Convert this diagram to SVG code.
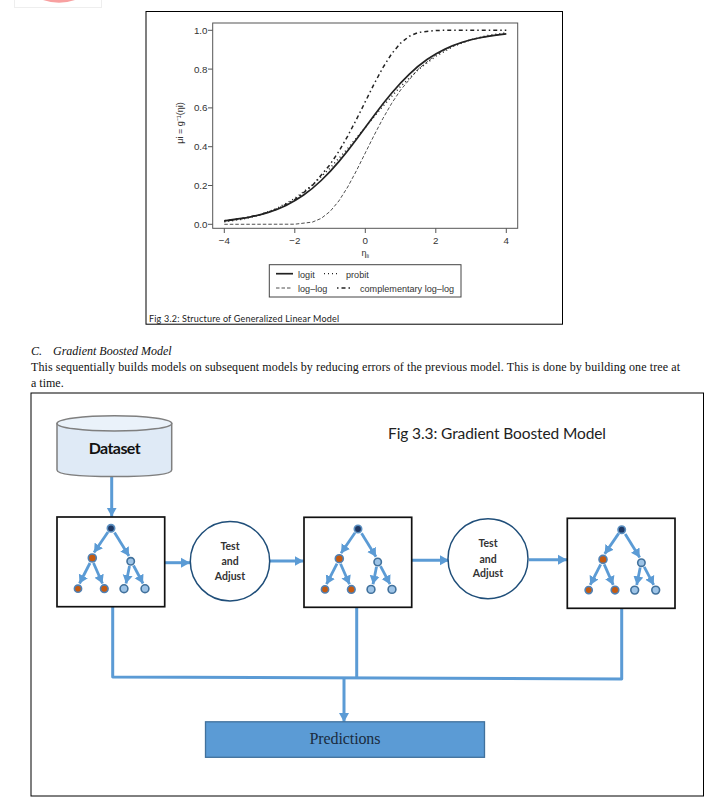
<svg xmlns="http://www.w3.org/2000/svg" width="717" height="803" viewBox="0 0 717 803">
<style>
.ax{font-family:"Liberation Sans",Arial,sans-serif;font-size:9.8px;fill:#333}
.lg{font-family:"Liberation Sans",Arial,sans-serif;font-size:9.1px;fill:#333}
.cap{font-family:Lato,"Open Sans",sans-serif;fill:#222}
.ser{font-family:"Liberation Serif","Times New Roman",serif;fill:#111}
.box{fill:#fff;stroke:#111;stroke-width:1.7}
.circ{fill:#fff;stroke:#1f4e79;stroke-width:1.5}
.ta{font-family:Lato,"Open Sans",sans-serif;font-size:10.5px;font-weight:700;fill:#333;text-anchor:middle}
.curve{fill:none;stroke:#222;stroke-linejoin:round}
.fl{fill:none;stroke:#5b9bd5;stroke-width:3}
.tr{fill:none;stroke:#5b9bd5;stroke-width:2.8}
.root{fill:#1f3864;stroke:#5b8fc0;stroke-width:1.6}
.org{fill:#c55a11;stroke:#4f81b5;stroke-width:1.6}
.blu{fill:#9dc3e6;stroke:#41719c;stroke-width:1.6}
</style>
<defs>
<marker id="h" markerUnits="userSpaceOnUse" markerWidth="11" markerHeight="12" refX="9" refY="6" orient="auto"><path d="M0 1L9 6L0 11z" fill="#5b9bd5"/></marker>
<marker id="t" markerUnits="userSpaceOnUse" markerWidth="10" markerHeight="12" refX="8.5" refY="6" orient="auto"><path d="M0 1L8.5 6L0 11z" fill="#5b9bd5"/></marker>
<g id="tree">
<path class="tr" marker-end="url(#t)" d="M108 532L94 552.5"/>
<path class="tr" marker-end="url(#t)" d="M114.5 532.5L129 556"/>
<path class="tr" marker-end="url(#t)" d="M90 563L79.5 583.5"/>
<path class="tr" marker-end="url(#t)" d="M93.5 563L102.5 583.5"/>
<path class="tr" marker-end="url(#t)" d="M129.5 566L126 583.5"/>
<path class="tr" marker-end="url(#t)" d="M133.5 565.5L143 583.5"/>
<circle class="root" cx="111" cy="528.3" r="3.7"/>
<circle class="org" cx="92.3" cy="558" r="4"/>
<circle class="blu" cx="130.7" cy="561.3" r="3.7"/>
<circle class="org" cx="78" cy="588.7" r="3.6"/>
<circle class="org" cx="104.3" cy="588.7" r="3.8"/>
<circle class="blu" cx="124" cy="588.7" r="3.9"/>
<circle class="blu" cx="145" cy="588.7" r="3.9"/>
</g>
</defs>
<rect width="717" height="803" fill="#fff"/>
<g id="fragment">
<rect x="14.5" y="-2" width="87" height="9.5" fill="#fff" stroke="#eee"/>
<path d="M43 0Q59 5.5 75 0z" fill="#f8a0a0"/>
</g>
<g id="fig32">
<rect x="146" y="11.5" width="416.5" height="312.7" fill="#fff" stroke="#000"/>
<rect x="212.7" y="23" width="305" height="205.3" fill="none" stroke="#555" stroke-width="1"/>
<path d="M208 30.3H212.7M208 69.1H212.7M208 107.9H212.7M208 146.7H212.7M208 185.5H212.7M208 224.3H212.7M224.3 228.3V233M294.8 228.3V233M365.3 228.3V233M435.8 228.3V233M506.3 228.3V233" stroke="#555" fill="none"/>
<g class="ax" text-anchor="end">
<text x="207.5" y="33.7">1.0</text><text x="207.5" y="72.5">0.8</text><text x="207.5" y="111.3">0.6</text><text x="207.5" y="150.1">0.4</text><text x="207.5" y="188.9">0.2</text><text x="207.5" y="227.7">0.0</text>
</g>
<g class="ax" text-anchor="middle">
<text x="224.3" y="244">−4</text><text x="294.8" y="244">−2</text><text x="365.3" y="244">0</text><text x="435.8" y="244">2</text><text x="506.3" y="244">4</text>
<text x="365.3" y="256" font-size="9">η<tspan font-size="6" dy="1.5">li</tspan></text>
<text transform="translate(183 123) rotate(-90)" font-size="9">μi = g⁻¹(ηi)</text>
</g>
<path class="curve" stroke-width="1.7" d="M224.3 220.8Q241.9 218.6 250.75 216.85Q259.6 215.1 268.4 212.35Q277.2 209.6 286 205.4Q294.8 201.2 303.6 195.05Q312.4 188.9 321.2 180.5Q330 172.1 338.85 161.6Q347.7 151.1 356.5 139.2Q365.3 127.3 374.1 115.4Q382.9 103.5 391.75 93Q400.6 82.5 409.4 74.1Q418.2 65.7 427 59.55Q435.8 53.4 444.6 49.2Q453.4 45 462.2 42.25Q471 39.5 479.85 37.75Q488.7 36 506.3 33.8"/>
<path class="curve" stroke-width="1.5" stroke-dasharray="1 3" d="M224.3 221.8L241.9 219.3L259.6 215L277.2 208.3L294.8 198.4L312.4 185L330 168.2L347.7 148.5L365.3 127.3L382.9 106.1L400.6 86.4L418.2 69.6L435.8 56.2L453.4 46.3L471 39.6L488.7 35.3L506.3 32.8"/>
<path class="curve" stroke-width="0.8" stroke-dasharray="3.5 2" d="M224.3 224.3L294.8 224.2L312.4 222.1L321.2 218.4L330 211.5L338.9 200.9L347.7 187L356.5 170.6L365.3 152.9L374.1 135.3L382.9 118.5L391.7 103.3L400.6 90L418.2 69.1L435.8 54.9L453.4 45.6L471 39.7L488.7 36.1L506.3 33.8"/>
<path class="curve" stroke-width="1.5" stroke-dasharray="1.5 3 4 3" d="M224.3 220.8L241.9 218.5L259.6 214.9L277.2 209L294.8 199.7L312.4 185.5L330 164.6L338.9 151.3L347.7 136.1L356.5 119.3L365.3 101.7L374.1 84L382.9 67.6L391.7 53.7L400.6 43.1L409.4 36.2L418.2 32.5L435.8 30.4L453.4 30.3L506.3 30.3"/>
<g id="legend">
<rect x="269.3" y="264.7" width="191.7" height="32.3" fill="#fff" stroke="#444"/>
<path class="curve" stroke-width="1.7" d="M276 273.7H293"/>
<path class="curve" stroke-width="1.3" stroke-dasharray="1 3" d="M324 273.7H340"/>
<path class="curve" stroke-width="0.8" stroke-dasharray="3.5 2" d="M276 288H292"/>
<path class="curve" stroke-width="1.4" stroke-dasharray="1.5 3 4 3" d="M337 288H353"/>
<g class="lg"><text x="298" y="277.5">logit</text><text x="346" y="277.5">probit</text><text x="298" y="291.5">log–log</text><text x="360" y="291.5">complementary log–log</text></g>
</g>
<text class="cap" x="149" y="322" font-size="9" textLength="190">Fig 3.2: Structure of Generalized Linear Model</text>
</g>
<g id="section" class="ser">
<text x="31" y="355" font-size="12" font-style="italic">C.</text>
<text x="53" y="355" font-size="12" font-style="italic">Gradient Boosted Model</text>
<text x="31" y="371" font-size="12" textLength="649">This sequentially builds models on subsequent models by reducing errors of the previous model. This is done by building one tree at</text>
<text x="31" y="387" font-size="12">a time.</text>
</g>
<rect id="frame" x="31" y="393" width="672.5" height="403" fill="none" stroke="#000"/>
<text id="title" class="cap" x="388" y="438.5" font-size="15.5" textLength="218">Fig 3.3: Gradient Boosted Model</text>
<g id="connectors">
<path class="fl" marker-end="url(#h)" d="M111.7 476V516.7"/>
<path class="fl" marker-end="url(#h)" d="M165 562.7H190"/>
<path class="fl" marker-end="url(#h)" d="M270 561H303.5"/>
<path class="fl" marker-end="url(#h)" d="M412 560.3H449"/>
<path class="fl" marker-end="url(#h)" d="M529 559.7H567"/>
<path class="fl" stroke-linejoin="round" d="M112.7 607V677L621.7 679V608.5"/>
<path class="fl" d="M356.7 607.5V678"/>
<path class="fl" marker-end="url(#h)" d="M344 678V722"/>
</g>
<g id="dataset">
<path d="M57 423.5V470Q57 476.5 114.5 476.5Q171.7 476.5 171.7 470V423.5z" fill="#dfeaf6" stroke="#7f7f7f" stroke-width="1.5"/>
<ellipse cx="114.4" cy="423.4" rx="57.3" ry="7.7" fill="#eaf2fa" stroke="#7f7f7f" stroke-width="1.5"/>
<text x="114.7" y="454" font-family="Lato,'Open Sans',sans-serif" font-weight="700" font-size="16" text-anchor="middle" textLength="52" fill="#111">Dataset</text>
</g>
<g id="tree1"><rect class="box" x="57" y="517" width="107.7" height="89.7"/><use href="#tree"/></g>
<g id="test1"><circle class="circ" cx="230" cy="561.3" r="39.7"/><text class="ta" x="230" y="549.7">Test</text><text class="ta" x="230" y="565">and</text><text class="ta" x="230" y="580">Adjust</text></g>
<g id="tree2"><rect class="box" x="304" y="517.3" width="107.7" height="90"/><use href="#tree" transform="translate(247 .7)"/></g>
<g id="test2"><circle class="circ" cx="488" cy="558.7" r="40"/><text class="ta" x="488" y="547.3">Test</text><text class="ta" x="488" y="562.7">and</text><text class="ta" x="488" y="577.3">Adjust</text></g>
<g id="tree3"><rect class="box" x="567.3" y="518.3" width="107.7" height="90"/><use href="#tree" transform="translate(510.7 1.4)"/></g>
<g id="predictions">
<rect x="205.5" y="721.8" width="279" height="35.5" fill="#5b9bd5" stroke="#41719c" stroke-width="1.3"/>
<text x="345" y="744" font-family="'Liberation Serif',serif" font-size="16" text-anchor="middle" textLength="71" fill="#1a2b40">Predictions</text>
</g>
</svg>
